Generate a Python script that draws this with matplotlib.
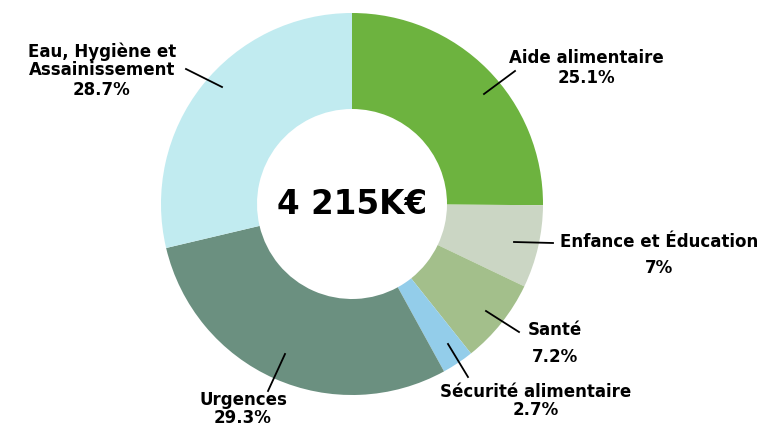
import matplotlib
matplotlib.use("Agg")
import matplotlib.pyplot as plt

# Répartition du budget
categories = ["Aide alimentaire", "Enfance et Éducation", "Santé",
              "Sécurité alimentaire", "Urgences", "Eau, Hygiène et\nAssainissement"]
parts = [25.1, 7.0, 7.2, 2.7, 29.3, 28.7]
pct_labels = ["25.1%", "7%", "7.2%", "2.7%", "29.3%", "28.7%"]
total = "4 215K€"
colors = ["#6db33f", "#cbd6c4", "#a3bf8b", "#93cdea", "#6b9080", "#c1ebf0"]

# position des étiquettes (px) et des traits de rappel
label_pos = [(586, 58), (659, 242), (555, 330), (536, 392), (243, 400), (102, 61)]
pct_pos = [(586, 78), (659, 268), (555, 357), (536, 410), (243, 418), (102, 90)]
leaders = [((484, 95), (515, 72)), ((514, 243), (553, 244)), ((486, 312), (519, 333)),
           ((448, 345), (468, 378)), ((285, 355), (268, 392)), ((186, 70), (222, 88))]

plt.rcParams["font.family"] = ["DejaVu Sans"]

fig = plt.figure(figsize=(7.63, 4.27), dpi=100)
ax = fig.add_axes([0, 0, 1, 1])

# y inversé : sens horaire visuel = sens trigo en données
ax.pie(parts, colors=colors, startangle=-90, counterclock=True,
       center=(352, 205), radius=191, frame=True,
       wedgeprops=dict(width=96, linewidth=0))
ax.set_xlim(0, 763)
ax.set_ylim(427, 0)
ax.axis("off")

ax.text(352, 205, total, ha="center", va="center", fontsize=23.5, fontweight="bold")

for cat, p, lp, pp, (a, b) in zip(categories, pct_labels, label_pos, pct_pos, leaders):
    ax.text(lp[0], lp[1], cat, ha="center", va="center", fontsize=12,
            fontweight="bold", linespacing=1.0)
    ax.text(pp[0], pp[1], p, ha="center", va="center", fontsize=12, fontweight="bold")
    ax.plot([a[0], b[0]], [a[1], b[1]], color="black", lw=1.3)

fig.savefig("out.png", dpi=100)
